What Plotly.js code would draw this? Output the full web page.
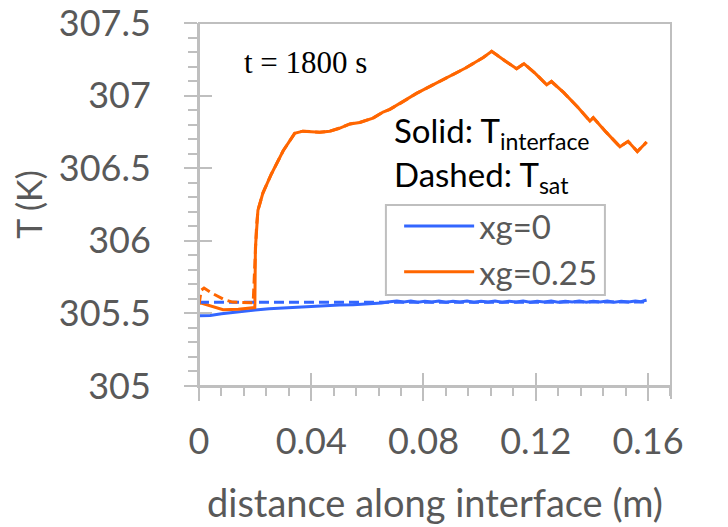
<!DOCTYPE html>
<html>
<head>
<meta charset="utf-8">
<script src="https://cdn.plot.ly/plotly-3.0.1.min.js"></script>
<style>
  html, body { margin: 0; padding: 0; background: #ffffff; }
  #chart { width: 728px; height: 527px; }
</style>
</head>
<body>
<div id="chart"></div>
<script>
// ---- data ----
// xg = 0, interface temperature (solid blue)
const xBlueInterface = [0, 0.004, 0.008, 0.012, 0.016, 0.020, 0.025, 0.030, 0.035, 0.040, 0.045, 0.050, 0.055, 0.060, 0.065, 0.068,
  0.0705, 0.0730, 0.0755, 0.0780, 0.0805, 0.0830, 0.0855, 0.0880, 0.0905, 0.0930, 0.0955, 0.0980, 0.1005, 0.1030, 0.1055, 0.1080,
  0.1105, 0.1130, 0.1155, 0.1180, 0.1205, 0.1230, 0.1255, 0.1280, 0.1305, 0.1330, 0.1355, 0.1380, 0.1405, 0.1430, 0.1455, 0.1480,
  0.1505, 0.1530, 0.1555, 0.1575, 0.1595];
const tBlueInterface = [305.483, 305.486, 305.497, 305.507, 305.516, 305.524, 305.532, 305.538, 305.544, 305.549, 305.553, 305.557, 305.560, 305.565, 305.571, 305.580,
  305.586, 305.578, 305.585, 305.577, 305.584, 305.578, 305.585, 305.577, 305.584, 305.578, 305.585, 305.577, 305.584, 305.578, 305.585, 305.577,
  305.584, 305.578, 305.585, 305.577, 305.584, 305.578, 305.585, 305.577, 305.584, 305.578, 305.585, 305.577, 305.584, 305.578, 305.585, 305.577,
  305.584, 305.578, 305.585, 305.580, 305.592];

// xg = 0, saturation temperature (dashed blue)
const xBlueSat = [0, 0.04, 0.08, 0.12, 0.1595];
const tBlueSat = [305.576, 305.576, 305.577, 305.577, 305.578];

// xg = 0.25, interface temperature (solid orange)
const xOrangeInterface = [0, 0.0035, 0.0086, 0.014, 0.0193, 0.0199, 0.0201, 0.0205, 0.0210, 0.0228, 0.0258, 0.0300, 0.0341, 0.0370,
  0.0430, 0.0466, 0.0500, 0.0538, 0.0573, 0.0620, 0.0656, 0.0680, 0.0720, 0.0775, 0.0830, 0.0894, 0.0950, 0.1013, 0.1043,
  0.1090, 0.1132, 0.1158, 0.1200, 0.1239, 0.1256, 0.1300, 0.1350, 0.1393, 0.1405, 0.1450, 0.1500, 0.1529, 0.1562, 0.1585, 0.1595];
const tOrangeInterface = [305.575, 305.555, 305.525, 305.528, 305.535, 305.540, 305.950, 306.100, 306.210, 306.330, 306.460, 306.620, 306.740, 306.755,
  306.748, 306.755, 306.775, 306.805, 306.815, 306.845, 306.887, 306.905, 306.950, 307.015, 307.070, 307.135, 307.190, 307.262, 307.305,
  307.240, 307.185, 307.220, 307.150, 307.075, 307.097, 307.020, 306.920, 306.825, 306.848, 306.750, 306.648, 306.685, 306.615, 306.660, 306.680];

// xg = 0.25, saturation temperature (dashed orange) before it meets the interface curve
const xOrangeSatStart = [0, 0.0008, 0.0018, 0.0050, 0.0090, 0.0120, 0.0193];
const tOrangeSatStart = [305.560, 305.660, 305.675, 305.635, 305.595, 305.578, 305.573];

// axis ticks
const xTickVals = [0, 0.04, 0.08, 0.12, 0.16];
const xTickText = ['0', '0.04', '0.08', '0.12', '0.16'];
const yTickVals = [305, 305.5, 306, 306.5, 307, 307.5];
const yTickText = ['305', '305.5', '306', '306.5', '307', '307.5'];

const seriesNames = ['xg=0', 'xg=0.25'];

// dashed orange: start part, then it follows the interface curve after the jump
const joinIndex = xOrangeInterface.indexOf(0.0201);
const xOrangeSat = xOrangeSatStart.concat(xOrangeInterface.slice(joinIndex));
const tOrangeSat = tOrangeSatStart.concat(tOrangeInterface.slice(joinIndex));

const BLUE = '#3366FF';
const ORANGE = '#FF6600';
const GRID = '#BFBFBF';
const TXT = '#595959';
const FONT = 'Lato, "Open Sans", sans-serif';

const traces = [
  { x: xBlueSat, y: tBlueSat, type: 'scatter', mode: 'lines', xaxis: 'x2', yaxis: 'y2',
    line: { color: BLUE, width: 3, dash: '10px,5px' }, showlegend: false, hoverinfo: 'skip' },
  { x: xOrangeSat, y: tOrangeSat, type: 'scatter', mode: 'lines', xaxis: 'x2', yaxis: 'y2',
    line: { color: ORANGE, width: 3, dash: '10px,5px' }, showlegend: false, hoverinfo: 'skip' },
  { x: xBlueInterface, y: tBlueInterface, type: 'scatter', mode: 'lines', name: seriesNames[0],
    line: { color: BLUE, width: 3 } },
  { x: xOrangeInterface, y: tOrangeInterface, type: 'scatter', mode: 'lines', name: seriesNames[1],
    line: { color: ORANGE, width: 3 } }
];

const xRange = [0, 0.1682];
const yRange = [304.99999, 307.50001];

const layout = {
  width: 728, height: 527,
  margin: { l: 199, r: 57, t: 23, b: 141, pad: 0 },
  paper_bgcolor: '#ffffff', plot_bgcolor: 'rgba(0,0,0,0)',
  font: { family: FONT, color: TXT },
  showlegend: true,
  xaxis: {
    range: xRange, fixedrange: true,
    tickmode: 'array', tickvals: xTickVals, ticktext: xTickText,
    ticks: 'outside', ticklen: 13, tickwidth: 2, tickcolor: GRID,
    minor: { dtick: 0.008, tick0: 0, ticks: 'outside', ticklen: 8, tickwidth: 2, tickcolor: GRID },
    showline: true, linecolor: GRID, linewidth: 2,
    showgrid: false, zeroline: false,
    tickfont: { family: FONT, size: 36, color: TXT },
    ticklabelstandoff: 10, ticklabeloverflow: 'allow',
    title: { text: 'distance along interface (m)', font: { family: FONT, size: 38, color: TXT }, standoff: 29 }
  },
  yaxis: {
    range: yRange, fixedrange: true,
    tickmode: 'array', tickvals: yTickVals, ticktext: yTickText,
    ticks: 'outside', ticklen: 13, tickwidth: 2, tickcolor: GRID,
    minor: { dtick: 0.1, tick0: 305, ticks: 'outside', ticklen: 9, tickwidth: 2, tickcolor: GRID },
    showline: true, linecolor: GRID, linewidth: 2,
    showgrid: false, zeroline: false,
    tickfont: { family: FONT, size: 36, color: TXT },
    ticklabelstandoff: 26, ticklabeloverflow: 'allow',
    title: { text: 'T (K)', font: { family: FONT, size: 34, color: TXT }, standoff: 6 }
  },
  xaxis2: {
    overlaying: 'x', anchor: 'y2', range: xRange, fixedrange: true,
    tickmode: 'array', tickvals: xTickVals, ticktext: xTickText,
    ticks: 'inside', ticklen: 13, tickwidth: 2, tickcolor: GRID,
    showticklabels: false, showline: false, showgrid: false, zeroline: false
  },
  yaxis2: {
    overlaying: 'y', anchor: 'x2', range: yRange, fixedrange: true,
    tickmode: 'array', tickvals: yTickVals, ticktext: yTickText,
    ticks: 'inside', ticklen: 13, tickwidth: 2, tickcolor: GRID,
    showticklabels: false, showline: false, showgrid: false, zeroline: false
  },
  legend: {
    x: 0.424, y: 0.518, xanchor: 'left', yanchor: 'top',
    bgcolor: 'rgba(0,0,0,0)', borderwidth: 0,
    font: { family: FONT, size: 33, color: TXT },
    itemwidth: 70, tracegroupgap: 0
  },
  shapes: [
    // legend frame
    { type: 'rect', xref: 'paper', yref: 'paper', x0: 0.396, x1: 0.860, y0: 0.2507, y1: 0.4986,
      line: { color: GRID, width: 2 }, fillcolor: '#ffffff', layer: 'below' },
    // plot-area frame
    { type: 'rect', xref: 'paper', yref: 'paper', x0: 0, x1: 1, y0: 0, y1: 1,
      line: { color: GRID, width: 2 }, fillcolor: 'rgba(0,0,0,0)', layer: 'above' },
    { type: 'line', xref: 'paper', yref: 'paper', x0: 1, x1: 1, y0: 0, y1: -0.036,
      line: { color: GRID, width: 2 }, layer: 'above' }
  ],
  annotations: [
    { xref: 'paper', yref: 'paper', x: 0.091, y: 0.892, xanchor: 'left', yanchor: 'middle', showarrow: false,
      text: 't = 1800 s', font: { family: '"Liberation Serif", "Times New Roman", serif', size: 31, color: '#000000' } },
    { xref: 'paper', yref: 'paper', x: 0.408, y: 0.697, xanchor: 'left', yanchor: 'middle', showarrow: false,
      text: 'Solid: T<sub>interface</sub>', font: { family: FONT, size: 33, color: '#000000' } },
    { xref: 'paper', yref: 'paper', x: 0.408, y: 0.5775, xanchor: 'left', yanchor: 'middle', showarrow: false,
      text: 'Dashed: T<sub>sat</sub>', font: { family: FONT, size: 33, color: '#000000' } }
  ]
};

Plotly.newPlot('chart', traces, layout, { staticPlot: true, displayModeBar: false });
</script>
</body>
</html>
